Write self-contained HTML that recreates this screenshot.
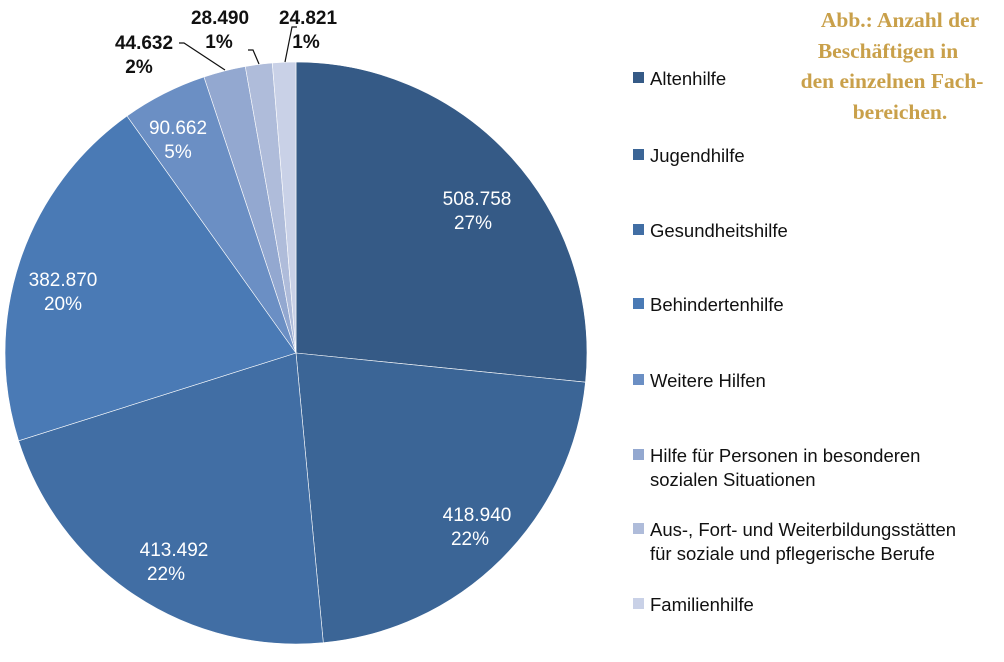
<!DOCTYPE html>
<html><head><meta charset="utf-8"><style>
body{margin:0;background:#fff;width:1004px;height:657px;overflow:hidden}
.s{font-family:"Liberation Sans",sans-serif}
.t{font-family:"Liberation Serif",serif;font-weight:bold}
</style></head><body>
<svg width="1004" height="657" viewBox="0 0 1004 657">
<g stroke="#fff" stroke-width="0.6">
<path d="M296,353 L296,62 A291,291 0 0 1 585.5,382.2 Z" fill="#355a86"/>
<path d="M296,353 L585.5,382.2 A291,291 0 0 1 323.3,642.7 Z" fill="#3b6596"/>
<path d="M296,353 L323.3,642.7 A291,291 0 0 1 18.6,440.8 Z" fill="#416ea4"/>
<path d="M296,353 L18.6,440.8 A291,291 0 0 1 127,116 Z" fill="#4a7ab5"/>
<path d="M296,353 L127,116 A291,291 0 0 1 204,77 Z" fill="#6b8fc4"/>
<path d="M296,353 L204,77 A291,291 0 0 1 245.3,66.5 Z" fill="#93a8d0"/>
<path d="M296,353 L245.3,66.5 A291,291 0 0 1 272.3,63 Z" fill="#afbcda"/>
<path d="M296,353 L272.3,63 A291,291 0 0 1 296,62 Z" fill="#c9d1e7"/>
</g>
<g class="s" font-size="19" fill="#fff" text-anchor="middle">
<text x="477" y="205">508.758</text><text x="473" y="229">27%</text>
<text x="477" y="521">418.940</text><text x="470" y="545">22%</text>
<text x="174" y="556">413.492</text><text x="166" y="580">22%</text>
<text x="63" y="286">382.870</text><text x="63" y="310">20%</text>
<text x="178" y="134">90.662</text><text x="178" y="158">5%</text>
</g>
<g class="s" font-size="19" fill="#111" text-anchor="middle" font-weight="bold">
<text x="144" y="49">44.632</text><text x="139" y="73">2%</text>
<text x="220" y="24">28.490</text><text x="219" y="48">1%</text>
<text x="308" y="24">24.821</text><text x="306" y="48">1%</text>
</g>
<g stroke="#111" stroke-width="1.2" fill="none">
<polyline points="179,43 184,43 225,70"/>
<polyline points="248,50 253,50 259,64"/>
<polyline points="297,27 292,27 285,62"/>
</g>
<g class="s" font-size="18.5" fill="#111">
<rect x="633" y="72" width="11" height="11" fill="#355a86"/><text x="650" y="85">Altenhilfe</text>
<rect x="633" y="149" width="11" height="11" fill="#3b6596"/><text x="650" y="162">Jugendhilfe</text>
<rect x="633" y="224" width="11" height="11" fill="#416ea4"/><text x="650" y="237">Gesundheitshilfe</text>
<rect x="633" y="298" width="11" height="11" fill="#4a7ab5"/><text x="650" y="311">Behindertenhilfe</text>
<rect x="633" y="374" width="11" height="11" fill="#6b8fc4"/><text x="650" y="387">Weitere Hilfen</text>
<rect x="633" y="449" width="11" height="11" fill="#93a8d0"/><text x="650" y="462">Hilfe für Personen in besonderen</text><text x="650" y="486">sozialen Situationen</text>
<rect x="633" y="523" width="11" height="11" fill="#afbcda"/><text x="650" y="536">Aus-, Fort- und Weiterbildungsstätten</text><text x="650" y="560">für soziale und pflegerische Berufe</text>
<rect x="633" y="598" width="11" height="11" fill="#c9d1e7"/><text x="650" y="611">Familienhilfe</text>
</g>
<g class="t" font-size="21.5" fill="#c9a04a" text-anchor="middle">
<text x="900" y="27">Abb.: Anzahl der</text>
<text x="888" y="58">Beschäftigen in</text>
<text x="892" y="88">den einzelnen Fach-</text>
<text x="900" y="119">bereichen.</text>
</g>
</svg>
</body></html>
